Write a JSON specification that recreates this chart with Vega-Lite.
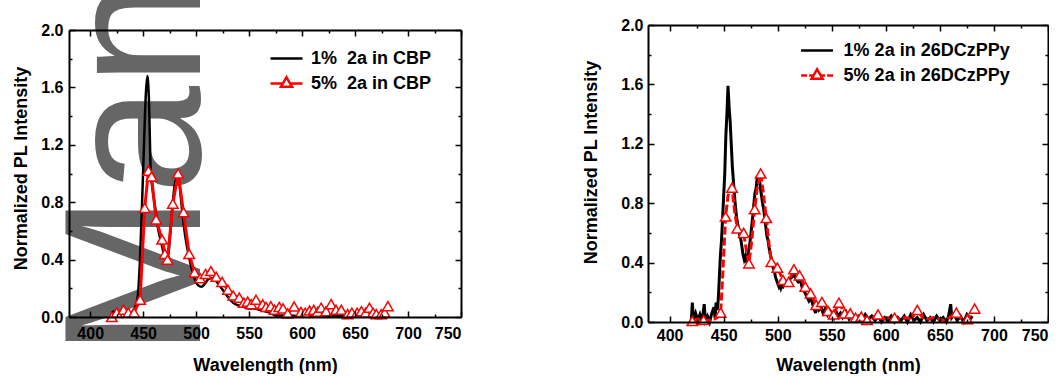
{
  "$schema": "https://vega.github.io/schema/vega-lite/v6.json",
  "background": "white",
  "padding": {"left": 12, "top": -23, "right": 0, "bottom": 0},
  "config": {
    "view": {"stroke": null},
    "font": "Liberation Sans",
    "axis": {"grid": false, "domainColor": "black", "domainWidth": 2, "tickColor": "black", "tickWidth": 1.5, "labelColor": "black", "labelFont": "Liberation Sans", "labelFontSize": 16, "labelFontWeight": "bold", "titleColor": "black", "titleFont": "Liberation Sans", "titleFontSize": 18, "titleFontWeight": "bold"},
    "legend": {"labelFont": "Liberation Sans", "labelFontSize": 18, "labelFontWeight": "bold", "labelColor": "black", "padding": 0, "labelLimit": 0}
  },
  "datasets": {
    "mark": [{"t": "Man", "wl": 503.5, "v": -0.278}],
    "cbp1": [
      {"wl": 420, "v": 0.03}, {"wl": 423, "v": 0.04}, {"wl": 426, "v": 0.02}, {"wl": 430, "v": 0.03}, {"wl": 434, "v": 0.04}, {"wl": 438, "v": 0.03}, {"wl": 441, "v": 0.05}, {"wl": 443, "v": 0.08}, {"wl": 445, "v": 0.15}, {"wl": 447, "v": 0.4}, {"wl": 449, "v": 0.8}, {"wl": 451, "v": 1.25}, {"wl": 452.5, "v": 1.55}, {"wl": 454, "v": 1.68}, {"wl": 455.5, "v": 1.5}, {"wl": 457, "v": 1.05}, {"wl": 459, "v": 0.88}, {"wl": 461, "v": 0.78}, {"wl": 464, "v": 0.62}, {"wl": 467, "v": 0.52}, {"wl": 470, "v": 0.43}, {"wl": 472, "v": 0.4}, {"wl": 474, "v": 0.45}, {"wl": 476, "v": 0.62}, {"wl": 478, "v": 0.8}, {"wl": 480, "v": 0.93}, {"wl": 482, "v": 0.97}, {"wl": 484, "v": 0.94}, {"wl": 486, "v": 0.8}, {"wl": 488, "v": 0.66}, {"wl": 490, "v": 0.55}, {"wl": 493, "v": 0.43}, {"wl": 496, "v": 0.33}, {"wl": 499, "v": 0.26}, {"wl": 502, "v": 0.22}, {"wl": 505, "v": 0.21}, {"wl": 508, "v": 0.23}, {"wl": 511, "v": 0.26}, {"wl": 514, "v": 0.27}, {"wl": 517, "v": 0.27}, {"wl": 520, "v": 0.24}, {"wl": 523, "v": 0.21}, {"wl": 526, "v": 0.18}, {"wl": 529, "v": 0.15}, {"wl": 532, "v": 0.12}, {"wl": 535, "v": 0.1}, {"wl": 540, "v": 0.08}, {"wl": 545, "v": 0.07}, {"wl": 550, "v": 0.06}, {"wl": 555, "v": 0.06}, {"wl": 560, "v": 0.05}, {"wl": 565, "v": 0.04}, {"wl": 570, "v": 0.03}, {"wl": 575, "v": 0.01}, {"wl": 580, "v": 0.01}, {"wl": 590, "v": 0.01}, {"wl": 600, "v": 0.005}, {"wl": 620, "v": 0.01}, {"wl": 640, "v": 0.005}, {"wl": 660, "v": 0.01}, {"wl": 680, "v": 0.01}
    ],
    "cbp5": [
      {"wl": 420.4, "v": 0.0}, {"wl": 425, "v": 0.03}, {"wl": 431.4, "v": 0.05}, {"wl": 436, "v": 0.03}, {"wl": 441.4, "v": 0.03}, {"wl": 447.1, "v": 0.12}, {"wl": 451.5, "v": 0.76}, {"wl": 455, "v": 1.02}, {"wl": 457.9, "v": 0.98}, {"wl": 462.2, "v": 0.68}, {"wl": 467.9, "v": 0.54}, {"wl": 470.5, "v": 0.44}, {"wl": 473, "v": 0.4}, {"wl": 478, "v": 0.79}, {"wl": 483, "v": 1.0}, {"wl": 488.1, "v": 0.73}, {"wl": 493.4, "v": 0.44}, {"wl": 498.5, "v": 0.31}, {"wl": 503.8, "v": 0.27}, {"wl": 508.9, "v": 0.3}, {"wl": 513.9, "v": 0.32}, {"wl": 519, "v": 0.28}, {"wl": 524.5, "v": 0.245}, {"wl": 530, "v": 0.19}, {"wl": 535, "v": 0.15}, {"wl": 540.7, "v": 0.135}, {"wl": 545, "v": 0.1}, {"wl": 548.6, "v": 0.107}, {"wl": 552, "v": 0.09}, {"wl": 556.5, "v": 0.12}, {"wl": 562.8, "v": 0.088}, {"wl": 566, "v": 0.07}, {"wl": 570.5, "v": 0.075}, {"wl": 574, "v": 0.05}, {"wl": 578.5, "v": 0.07}, {"wl": 582, "v": 0.06}, {"wl": 586.4, "v": 0.025}, {"wl": 592.5, "v": 0.073}, {"wl": 599, "v": 0.035}, {"wl": 603, "v": 0.03}, {"wl": 607, "v": 0.045}, {"wl": 611, "v": 0.05}, {"wl": 614.8, "v": 0.037}, {"wl": 618, "v": 0.065}, {"wl": 622.6, "v": 0.04}, {"wl": 627.4, "v": 0.09}, {"wl": 632, "v": 0.05}, {"wl": 637, "v": 0.05}, {"wl": 643, "v": 0.02}, {"wl": 647, "v": 0.03}, {"wl": 652, "v": 0.03}, {"wl": 656, "v": 0.04}, {"wl": 660, "v": 0.03}, {"wl": 663.6, "v": 0.065}, {"wl": 667, "v": 0.03}, {"wl": 670, "v": 0.02}, {"wl": 674.6, "v": 0.02}, {"wl": 678, "v": 0.03}, {"wl": 681, "v": 0.076}
    ],
    "dcz1": [
      {"wl": 420, "v": 0.0}, {"wl": 421, "v": 0.13}, {"wl": 422, "v": 0.02}, {"wl": 424, "v": 0.06}, {"wl": 426, "v": 0.01}, {"wl": 428, "v": 0.05}, {"wl": 430, "v": 0.0}, {"wl": 432, "v": 0.12}, {"wl": 433, "v": 0.01}, {"wl": 435, "v": 0.04}, {"wl": 437, "v": 0.0}, {"wl": 439, "v": 0.06}, {"wl": 441, "v": 0.1}, {"wl": 442, "v": 0.03}, {"wl": 443, "v": 0.13}, {"wl": 444, "v": 0.08}, {"wl": 445, "v": 0.15}, {"wl": 446, "v": 0.3}, {"wl": 447, "v": 0.45}, {"wl": 448, "v": 0.55}, {"wl": 449, "v": 0.7}, {"wl": 450, "v": 0.85}, {"wl": 451, "v": 1.0}, {"wl": 452, "v": 1.25}, {"wl": 453, "v": 1.4}, {"wl": 454, "v": 1.59}, {"wl": 455, "v": 1.45}, {"wl": 456, "v": 1.35}, {"wl": 457, "v": 1.2}, {"wl": 458, "v": 1.05}, {"wl": 459, "v": 0.95}, {"wl": 460, "v": 0.85}, {"wl": 461, "v": 0.77}, {"wl": 462, "v": 0.7}, {"wl": 463, "v": 0.66}, {"wl": 464, "v": 0.62}, {"wl": 465, "v": 0.58}, {"wl": 466, "v": 0.55}, {"wl": 467, "v": 0.5}, {"wl": 468, "v": 0.45}, {"wl": 469, "v": 0.42}, {"wl": 470, "v": 0.44}, {"wl": 471, "v": 0.4}, {"wl": 472, "v": 0.43}, {"wl": 473, "v": 0.48}, {"wl": 474, "v": 0.52}, {"wl": 475, "v": 0.58}, {"wl": 476, "v": 0.65}, {"wl": 477, "v": 0.72}, {"wl": 478, "v": 0.8}, {"wl": 479, "v": 0.87}, {"wl": 480, "v": 0.9}, {"wl": 481, "v": 0.97}, {"wl": 482, "v": 0.93}, {"wl": 483, "v": 0.97}, {"wl": 484, "v": 0.9}, {"wl": 485, "v": 0.85}, {"wl": 486, "v": 0.8}, {"wl": 487, "v": 0.76}, {"wl": 488, "v": 0.7}, {"wl": 489, "v": 0.64}, {"wl": 490, "v": 0.58}, {"wl": 491, "v": 0.55}, {"wl": 492, "v": 0.5}, {"wl": 493, "v": 0.46}, {"wl": 494, "v": 0.43}, {"wl": 495, "v": 0.38}, {"wl": 496, "v": 0.36}, {"wl": 497, "v": 0.34}, {"wl": 498, "v": 0.3}, {"wl": 499, "v": 0.28}, {"wl": 500, "v": 0.26}, {"wl": 501, "v": 0.24}, {"wl": 502, "v": 0.26}, {"wl": 503, "v": 0.23}, {"wl": 504, "v": 0.25}, {"wl": 505, "v": 0.24}, {"wl": 507, "v": 0.27}, {"wl": 509, "v": 0.26}, {"wl": 511, "v": 0.29}, {"wl": 513, "v": 0.3}, {"wl": 515, "v": 0.32}, {"wl": 517, "v": 0.29}, {"wl": 519, "v": 0.27}, {"wl": 521, "v": 0.28}, {"wl": 523, "v": 0.22}, {"wl": 525, "v": 0.2}, {"wl": 527, "v": 0.17}, {"wl": 529, "v": 0.14}, {"wl": 531, "v": 0.16}, {"wl": 533, "v": 0.1}, {"wl": 535, "v": 0.06}, {"wl": 536, "v": 0.11}, {"wl": 538, "v": 0.08}, {"wl": 540, "v": 0.1}, {"wl": 542, "v": 0.06}, {"wl": 544, "v": 0.09}, {"wl": 546, "v": 0.05}, {"wl": 548, "v": 0.08}, {"wl": 550, "v": 0.06}, {"wl": 552, "v": 0.03}, {"wl": 554, "v": 0.07}, {"wl": 556, "v": 0.04}, {"wl": 558, "v": 0.06}, {"wl": 560, "v": 0.03}, {"wl": 563, "v": 0.07}, {"wl": 566, "v": 0.02}, {"wl": 569, "v": 0.05}, {"wl": 572, "v": 0.02}, {"wl": 575, "v": 0.04}, {"wl": 578, "v": 0.01}, {"wl": 581, "v": 0.05}, {"wl": 584, "v": 0.02}, {"wl": 587, "v": 0.04}, {"wl": 590, "v": 0.01}, {"wl": 593, "v": 0.04}, {"wl": 596, "v": 0.0}, {"wl": 599, "v": 0.03}, {"wl": 602, "v": 0.01}, {"wl": 605, "v": 0.04}, {"wl": 608, "v": 0.0}, {"wl": 611, "v": 0.03}, {"wl": 614, "v": 0.01}, {"wl": 617, "v": 0.04}, {"wl": 620, "v": 0.0}, {"wl": 623, "v": 0.05}, {"wl": 626, "v": 0.01}, {"wl": 629, "v": 0.03}, {"wl": 632, "v": 0.0}, {"wl": 635, "v": 0.05}, {"wl": 638, "v": 0.01}, {"wl": 641, "v": 0.03}, {"wl": 644, "v": 0.0}, {"wl": 647, "v": 0.04}, {"wl": 650, "v": 0.01}, {"wl": 653, "v": 0.03}, {"wl": 656, "v": 0.0}, {"wl": 658, "v": 0.04}, {"wl": 660, "v": 0.12}, {"wl": 661, "v": 0.03}, {"wl": 663, "v": 0.05}, {"wl": 666, "v": 0.01}, {"wl": 669, "v": 0.04}, {"wl": 672, "v": 0.0}, {"wl": 675, "v": 0.05}, {"wl": 678, "v": 0.02}, {"wl": 680, "v": 0.04}
    ],
    "dcz5": [
      {"wl": 421, "v": 0.007, "mk": 1}, {"wl": 426, "v": 0.02, "mk": 0}, {"wl": 431.4, "v": 0.013, "mk": 1}, {"wl": 436, "v": 0.01, "mk": 0}, {"wl": 441, "v": 0.02, "mk": 0}, {"wl": 444, "v": 0.03, "mk": 0}, {"wl": 447.2, "v": 0.063, "mk": 1}, {"wl": 449, "v": 0.3, "mk": 0}, {"wl": 451.8, "v": 0.71, "mk": 1}, {"wl": 454, "v": 0.85, "mk": 0}, {"wl": 457.7, "v": 0.905, "mk": 1}, {"wl": 460, "v": 0.75, "mk": 0}, {"wl": 462.6, "v": 0.63, "mk": 1}, {"wl": 465, "v": 0.6, "mk": 0}, {"wl": 468.5, "v": 0.6, "mk": 1}, {"wl": 471, "v": 0.48, "mk": 0}, {"wl": 473.4, "v": 0.395, "mk": 1}, {"wl": 476, "v": 0.55, "mk": 0}, {"wl": 478.7, "v": 0.76, "mk": 1}, {"wl": 481, "v": 0.9, "mk": 0}, {"wl": 484.2, "v": 1.0, "mk": 1}, {"wl": 486.5, "v": 0.88, "mk": 0}, {"wl": 489.4, "v": 0.7, "mk": 1}, {"wl": 492, "v": 0.52, "mk": 0}, {"wl": 494.1, "v": 0.405, "mk": 1}, {"wl": 499.6, "v": 0.366, "mk": 1}, {"wl": 504.9, "v": 0.283, "mk": 1}, {"wl": 510.1, "v": 0.27, "mk": 1}, {"wl": 515, "v": 0.355, "mk": 1}, {"wl": 520.2, "v": 0.314, "mk": 1}, {"wl": 525.5, "v": 0.238, "mk": 1}, {"wl": 530.4, "v": 0.193, "mk": 1}, {"wl": 535.6, "v": 0.115, "mk": 1}, {"wl": 540.9, "v": 0.135, "mk": 1}, {"wl": 546.5, "v": 0.074, "mk": 1}, {"wl": 551.7, "v": 0.05, "mk": 1}, {"wl": 556.6, "v": 0.13, "mk": 1}, {"wl": 561.9, "v": 0.058, "mk": 1}, {"wl": 567.1, "v": 0.058, "mk": 1}, {"wl": 572, "v": 0.029, "mk": 1}, {"wl": 577.3, "v": 0.036, "mk": 1}, {"wl": 582.6, "v": 0.013, "mk": 1}, {"wl": 587.5, "v": 0.03, "mk": 0}, {"wl": 592.8, "v": 0.051, "mk": 1}, {"wl": 598, "v": 0.02, "mk": 0}, {"wl": 603, "v": 0.03, "mk": 0}, {"wl": 608.1, "v": 0.029, "mk": 1}, {"wl": 613, "v": 0.02, "mk": 0}, {"wl": 618, "v": 0.03, "mk": 0}, {"wl": 623.5, "v": 0.02, "mk": 0}, {"wl": 629.1, "v": 0.081, "mk": 1}, {"wl": 634, "v": 0.03, "mk": 0}, {"wl": 639, "v": 0.02, "mk": 0}, {"wl": 644, "v": 0.03, "mk": 0}, {"wl": 649, "v": 0.02, "mk": 0}, {"wl": 654, "v": 0.01, "mk": 0}, {"wl": 659, "v": 0.03, "mk": 0}, {"wl": 665.2, "v": 0.063, "mk": 1}, {"wl": 670, "v": 0.02, "mk": 0}, {"wl": 675.4, "v": 0.018, "mk": 1}, {"wl": 682.1, "v": 0.09, "mk": 1}
    ]
  },
  "resolve": {"scale": {"stroke": "independent", "strokeDash": "independent"}, "legend": {"stroke": "independent"}},
  "bounds": "flush",
  "center": true,
  "spacing": 187,
  "hconcat": [
    {
      "width": 392,
      "height": 287,
      "resolve": {"axis": {"x": "independent", "y": "independent"}},
      "layer": [
        {
          "data": {"name": "mark"},
          "mark": {"type": "text", "angle": 270, "fontSize": 195, "font": "Liberation Sans", "color": "#666666", "align": "left", "baseline": "alphabetic"},
          "encoding": {
            "text": {"field": "t", "type": "nominal"},
            "x": {"field": "wl", "type": "quantitative", "scale": {"domain": [380, 750], "nice": false, "zero": false},
              "axis": {"orient": "bottom", "zindex": 2, "values": [400, 450, 500, 550, 600, 650, 700, 750], "tickSize": -6, "labelPadding": 14, "title": "Wavelength (nm)", "titlePadding": 15}},
            "y": {"field": "v", "type": "quantitative", "scale": {"domain": [0, 2], "nice": false, "zero": false},
              "axis": {"orient": "left", "zindex": 2, "values": [0, 0.4, 0.8, 1.2, 1.6, 2.0], "format": ".1f", "tickSize": -6, "labelPadding": 12, "title": "Normalized PL Intensity", "titlePadding": 10, "titleY": 138}}
          }
        },
        {
          "data": {"name": "cbp1"},
          "mark": {"type": "line", "strokeWidth": 2.5, "interpolate": "monotone"},
          "encoding": {
            "x": {"field": "wl", "type": "quantitative", "axis": {"orient": "top", "zindex": 2, "values": [400, 450, 500, 550, 600, 650, 700, 750], "tickSize": -6, "labels": false, "title": null}},
            "y": {"field": "v", "type": "quantitative", "axis": {"orient": "right", "zindex": 2, "values": [0, 0.4, 0.8, 1.2, 1.6, 2.0], "tickSize": -6, "labels": false, "title": null}},
            "stroke": {"datum": "1% \u00a02a in CBP", "type": "nominal", "scale": {"domain": ["1% \u00a02a in CBP", "5% \u00a02a in CBP"], "range": ["black", "#ff0000"]},
              "legend": {"title": null, "orient": "none", "legendX": 206, "legendY": 17, "symbolSize": 400, "labelOffset": 13, "rowPadding": 4,
                "encode": {"symbols": {"update": {"shape": {"signal": "datum.index === 0 ? 'M-1.6,0L1.6,0' : 'M-1.6,0L-0.36,0M0.36,0L1.6,0M0,-0.62L0.55,0.32L-0.55,0.32Z'"}, "fill": {"value": "white"}, "strokeWidth": {"value": 2.5}, "opacity": {"value": 1}}}}}}
          }
        },
        {
          "data": {"name": "cbp5"},
          "mark": {"type": "line", "strokeWidth": 3},
          "encoding": {
            "x": {"field": "wl", "type": "quantitative", "axis": {"orient": "bottom", "zindex": 2, "values": [375, 425, 475, 525, 575, 625, 675, 725], "tickSize": -3, "labels": false, "title": null, "domain": false}},
            "y": {"field": "v", "type": "quantitative", "axis": {"orient": "left", "zindex": 2, "values": [0.2, 0.6, 1.0, 1.4, 1.8], "tickSize": -3, "labels": false, "title": null, "domain": false}},
            "stroke": {"datum": "5% \u00a02a in CBP", "type": "nominal"}
          }
        },
        {
          "data": {"name": "cbp5"},
          "mark": {"type": "point", "shape": "triangle-up", "size": 110, "filled": false, "fill": "white", "fillOpacity": 1, "strokeWidth": 1.5, "opacity": 1},
          "encoding": {
            "x": {"field": "wl", "type": "quantitative", "axis": {"orient": "top", "zindex": 2, "values": [375, 425, 475, 525, 575, 625, 675, 725], "tickSize": -3, "labels": false, "title": null, "domain": false}},
            "y": {"field": "v", "type": "quantitative", "axis": {"orient": "right", "zindex": 2, "values": [0.2, 0.6, 1.0, 1.4, 1.8], "tickSize": -3, "labels": false, "title": null, "domain": false}},
            "stroke": {"datum": "5% \u00a02a in CBP", "type": "nominal"}
          }
        }
      ]
    },
    {
      "width": 400,
      "height": 297,
      "resolve": {"axis": {"x": "independent", "y": "independent"}},
      "layer": [
        {
          "data": {"name": "dcz1"},
          "mark": {"type": "line", "strokeWidth": 3},
          "encoding": {
            "x": {"field": "wl", "type": "quantitative", "scale": {"domain": [380, 750], "nice": false, "zero": false},
              "axis": {"orient": "bottom", "zindex": 2, "values": [400, 450, 500, 550, 600, 650, 700, 750], "tickSize": -6, "labelPadding": 11, "title": "Wavelength (nm)", "titlePadding": 13}},
            "y": {"field": "v", "type": "quantitative", "scale": {"domain": [0, 2], "nice": false, "zero": false},
              "axis": {"orient": "left", "zindex": 2, "values": [0, 0.4, 0.8, 1.2, 1.6, 2.0], "format": ".1f", "tickSize": -6, "labelPadding": 11, "title": "Normalized PL Intensity", "titlePadding": 20, "titleY": 137}},
            "stroke": {"datum": "1% 2a in 26DCzPPy", "type": "nominal", "scale": {"domain": ["1% 2a in 26DCzPPy", "5% 2a in 26DCzPPy"], "range": ["black", "#ff0000"]},
              "legend": {"title": null, "orient": "none", "legendX": 157.6, "legendY": 14, "symbolSize": 400, "labelOffset": 15, "rowPadding": 4,
                "encode": {"symbols": {"update": {"shape": {"signal": "datum.index === 0 ? 'M-1.6,0L1.6,0' : 'M-1.6,0L-1.0,0M-0.8,0L-0.36,0M0.36,0L0.8,0M1.0,0L1.6,0M0,-0.62L0.55,0.32L-0.55,0.32Z'"}, "fill": {"value": "white"}, "strokeWidth": {"value": 2.5}, "opacity": {"value": 1}}}}}}
          }
        },
        {
          "data": {"name": "dcz5"},
          "mark": {"type": "line", "strokeWidth": 3, "strokeDash": [8, 3]},
          "encoding": {
            "x": {"field": "wl", "type": "quantitative", "axis": {"orient": "top", "zindex": 2, "values": [400, 450, 500, 550, 600, 650, 700, 750], "tickSize": -6, "labels": false, "title": null}},
            "y": {"field": "v", "type": "quantitative", "axis": {"orient": "right", "zindex": 2, "values": [0, 0.4, 0.8, 1.2, 1.6, 2.0], "tickSize": -6, "labels": false, "title": null}},
            "stroke": {"datum": "5% 2a in 26DCzPPy", "type": "nominal"}
          }
        },
        {
          "data": {"name": "dcz5"},
          "transform": [{"filter": "datum.mk == 1"}],
          "mark": {"type": "point", "shape": "triangle-up", "size": 110, "filled": false, "fill": "white", "fillOpacity": 1, "strokeWidth": 1.5, "opacity": 1},
          "encoding": {
            "x": {"field": "wl", "type": "quantitative", "axis": {"orient": "bottom", "zindex": 2, "values": [375, 425, 475, 525, 575, 625, 675, 725], "tickSize": -3, "labels": false, "title": null, "domain": false}},
            "y": {"field": "v", "type": "quantitative", "axis": {"orient": "left", "zindex": 2, "values": [0.2, 0.6, 1.0, 1.4, 1.8], "tickSize": -3, "labels": false, "title": null, "domain": false}},
            "stroke": {"datum": "5% 2a in 26DCzPPy", "type": "nominal"}
          }
        },
        {
          "data": {"name": "dcz5"},
          "mark": {"type": "rule", "opacity": 0},
          "encoding": {
            "x": {"field": "wl", "type": "quantitative", "axis": {"orient": "top", "zindex": 2, "values": [375, 425, 475, 525, 575, 625, 675, 725], "tickSize": -3, "labels": false, "title": null, "domain": false}},
            "y": {"field": "v", "type": "quantitative", "axis": {"orient": "right", "zindex": 2, "values": [0.2, 0.6, 1.0, 1.4, 1.8], "tickSize": -3, "labels": false, "title": null, "domain": false}}
          }
        }
      ]
    }
  ]
}
